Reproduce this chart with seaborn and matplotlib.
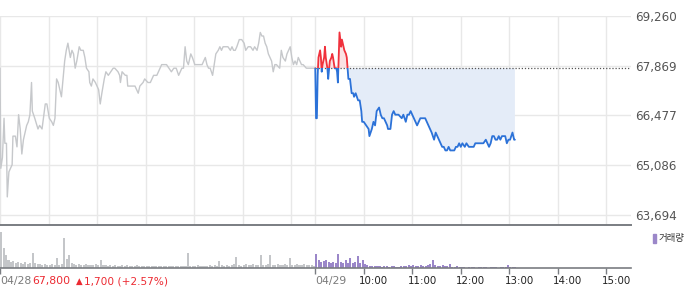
import numpy as np
import pandas as pd
import matplotlib
matplotlib.use("Agg")
import matplotlib.pyplot as plt
import matplotlib.transforms as mtransforms
from matplotlib.patches import Rectangle
import seaborn as sns

# ---------------- data ----------------
base_price = 67800
y_ticks = [63694, 65086, 66477, 67869, 69260]

prev_minutes = [0, 1, 3, 5, 6, 8, 9, 11, 13, 15, 16, 19, 21, 23, 25, 27, 29, 31, 33, 35, 37, 39, 40, 43, 47, 49, 52,
                56, 58, 61, 64, 66, 68, 70, 72, 76, 78, 80, 82, 84, 87, 89, 91, 93, 95, 98, 100, 103, 105, 107, 110,
                111, 113, 115, 118, 120, 122, 124, 126, 129, 131, 134, 137, 140, 142, 146, 148, 149, 151, 155, 157,
                158, 161, 165, 167, 169, 171, 173, 177, 179, 183, 186, 190, 194, 198, 200, 204, 206, 209, 212, 215,
                218, 221, 223, 225, 227, 229, 231, 233, 236, 238, 241, 245, 250, 252, 254, 256, 258, 260, 263, 265,
                267, 270, 272, 274, 276, 280, 282, 285, 287, 289, 291, 293, 296, 299, 302, 304, 307, 310, 313, 315,
                318, 320, 322, 324, 326, 328, 330, 332, 334, 336, 338, 340, 342, 346, 348, 350, 353, 355, 357, 359,
                361, 363, 365, 367, 369, 371, 373, 375, 379, 386, 390]
prev_prices = [67800, 65000, 65300, 66400, 65700, 65700, 64200, 64900, 65000, 65100, 65900, 65900, 65600, 66500,
               66100, 65400, 65800, 66000, 66200, 66300, 66500, 67400, 66600, 66400, 66100, 66200, 66100, 66800,
               66800, 66400, 66300, 66200, 66400, 67500, 67400, 67000, 67500, 68000, 68300, 68500, 68100, 68300,
               68200, 67800, 68000, 68400, 68300, 68300, 68100, 67800, 67700, 67400, 67300, 67500, 67400, 67300,
               67200, 66800, 67100, 67500, 67700, 67600, 67700, 67800, 67800, 67700, 67600, 67400, 67700, 67600,
               67600, 67300, 67300, 67300, 67300, 67200, 67100, 67300, 67400, 67500, 67400, 67400, 67600, 67600,
               67800, 67900, 67900, 67900, 67800, 67700, 67800, 67800, 67600, 67700, 67800, 67800, 68400, 68000,
               67900, 68200, 68100, 67900, 67900, 67900, 68000, 68100, 67900, 67800, 67800, 67600, 67900, 68200,
               68300, 68400, 68300, 68400, 68400, 68400, 68300, 68400, 68300, 68300, 68400, 68600, 68600, 68500,
               68300, 68400, 68400, 68300, 68400, 68300, 68500, 68800, 68700, 68700, 68500, 68400, 68200, 68100,
               68000, 67700, 67900, 67900, 67800, 68300, 68100, 68000, 68200, 68300, 68400, 68100, 67900, 68000,
               67900, 68100, 68000, 67900, 67900, 67800, 67800, 67800]

today_minutes = [0, 1, 2, 3, 4, 6, 7, 8, 9, 11, 12, 13, 15, 16, 18, 20, 21, 22, 24, 26, 27, 28, 29, 30, 32, 33, 35,
                 36, 38, 39, 40, 41, 43, 45, 47, 48, 50, 53, 55, 57, 58, 60, 63, 66, 67, 70, 72, 74, 76, 79, 81, 83,
                 85, 87, 89, 90, 93, 95, 97, 99, 101, 103, 107, 109, 112, 114, 116, 118, 120, 122, 124, 126, 128,
                 130, 132, 134, 136, 138, 140, 142, 144, 147, 149, 151, 153, 155, 157, 159, 161, 163, 165, 167, 169,
                 172, 174, 176, 178, 180, 182, 185, 187, 190, 193, 196, 198, 200, 202, 204, 206, 208, 211, 213, 215,
                 217, 219, 221, 223, 225, 227, 229, 231, 233, 235, 237, 239, 241, 244, 246, 247]
today_prices = [67800, 66400, 66400, 67600, 68100, 68300, 68100, 67700, 67900, 68100, 68400, 68100, 67800, 67500,
                68000, 68100, 68200, 68100, 67800, 67800, 67700, 67400, 68100, 68800, 68400, 68600, 68400, 68300,
                68200, 68100, 67800, 67500, 67500, 67100, 67100, 67000, 67100, 66900, 66900, 66600, 66300, 66300,
                66200, 66100, 65900, 66100, 66300, 66200, 66600, 66700, 66500, 66400, 66400, 66300, 66200, 66100,
                66100, 66500, 66600, 66500, 66500, 66500, 66400, 66500, 66300, 66500, 66500, 66600, 66500, 66400,
                66300, 66200, 66300, 66400, 66400, 66400, 66400, 66300, 66200, 66100, 66000, 65800, 66000, 65900,
                65800, 65700, 65600, 65600, 65500, 65500, 65600, 65500, 65500, 65500, 65600, 65600, 65700, 65600,
                65700, 65600, 65700, 65600, 65600, 65600, 65700, 65700, 65700, 65700, 65700, 65700, 65800, 65700,
                65600, 65700, 65900, 65900, 65800, 65800, 65900, 65800, 65900, 65900, 65900, 65700, 65800, 65800,
                66000, 65800, 65800]

prev_volume = [36, 20, 13, 8, 6, 7, 5, 6, 5, 4, 6, 4, 5, 15, 5, 4, 4, 3, 4, 3,
               3, 4, 3, 10, 3, 4, 30, 9, 13, 5, 4, 3, 4, 3, 3, 4, 3, 3, 3, 4,
               3, 8, 3, 3, 2, 3, 2, 3, 2, 2, 3, 2, 3, 2, 2, 2, 3, 2, 2, 2,
               2, 2, 2, 2, 2, 2, 2, 2, 2, 2, 2, 2, 2, 2, 2, 2, 2, 15, 2, 2,
               2, 3, 2, 2, 2, 2, 3, 2, 3, 2, 7, 3, 2, 3, 2, 3, 4, 11, 3, 2,
               3, 4, 3, 3, 4, 3, 3, 13, 3, 3, 4, 13, 3, 3, 4, 3, 3, 4, 3, 10,
               3, 3, 4, 3, 3, 4, 3, 3, 3, 2]
today_volume = [14, 8, 6, 7, 8, 6, 5, 6, 5, 14, 6, 5, 8, 5, 10, 5, 6, 12, 5, 8,
                4, 3, 2, 2, 2, 2, 2, 1, 2, 2, 1, 2, 2, 1, 1, 2, 2, 2, 3, 2,
                3, 2, 2, 3, 2, 2, 3, 4, 8, 3, 2, 2, 3, 2, 2, 4, 1, 1, 2, 1,
                1, 1, 0, 1, 1, 1, 0, 1, 1, 1, 1, 0, 1, 1, 1, 0, 1, 1, 1, 3,
                1, 1, 1]

session_minutes = 390
volume_step = 3
x_tick_labels = ["04/28", "04/29", "10:00", "11:00", "12:00", "13:00", "14:00", "15:00"]
close_text = "67,800"
arrow_text = "\u25b2"
change_text = "1,700 (+2.57%)"
legend_label = "거래량"

# ---------------- style ----------------
sns.set_theme(style="white")
plt.rcParams['font.family'] = ['DejaVu Sans']

GRAY_LINE = "#c6c8cb"
RED = "#f0313c"
BLUE = "#2c72d8"
RED_FILL = "#fbe1e3"
BLUE_FILL = "#e4ecf8"
GRID = "#e8e8e8"
VOL_GRAY = "#c4c6c9"
VOL_PURPLE = "#9b87c9"
TXT_RED = "#ec2a32"

W, H = 700, 289
fig = plt.figure(figsize=(W / 100, H / 100), dpi=100)
fig.patch.set_facecolor("white")

def fx(px):
    return px / W

def fy(py):
    return 1 - py / H

plot_right = 630.5
ax = fig.add_axes([0, fy(225), fx(plot_right), fy(16) - fy(225)])
axv = fig.add_axes([0, fy(268), fx(plot_right), fy(226) - fy(268)])

total = 2 * session_minutes
y_low = y_ticks[0] - (y_ticks[1] - y_ticks[0]) * 10 / 49.75

prev_df = pd.DataFrame({"t": prev_minutes, "price": prev_prices})
today_df = pd.DataFrame({"t": np.array(today_minutes) + session_minutes, "price": today_prices})

# grid
for v in y_ticks:
    ax.axhline(v, color=GRID, lw=1, zorder=0)
grid_x = [60 * h for h in range(0, 7)] + [session_minutes + 60 * h for h in range(0, 7)]
for gx in grid_x:
    ax.axvline(gx, color=GRID, lw=1, zorder=0)

# previous-day line
sns.lineplot(data=prev_df, x="t", y="price", ax=ax, color=GRAY_LINE, linewidth=1.0, zorder=3)

# today fills
tx = today_df["t"].to_numpy(dtype=float)
ty = today_df["price"].to_numpy(dtype=float)
ax.fill_between(tx, ty, base_price, where=ty >= base_price, interpolate=True, color=RED_FILL, lw=0, zorder=1)
ax.fill_between(tx, ty, base_price, where=ty <= base_price, interpolate=True, color=BLUE_FILL, lw=0, zorder=1)

# baseline dotted
ax.plot([session_minutes, total], [base_price, base_price], color="#555555", lw=0.9,
        linestyle=(0, (1, 1.5)), zorder=2)

# today line: red above, blue below
sns.lineplot(data=today_df, x="t", y="price", ax=ax, color=RED, linewidth=1.3, zorder=4)
red_line = ax.lines[-1]
sns.lineplot(data=today_df, x="t", y="price", ax=ax, color=BLUE, linewidth=1.3, zorder=4)
blue_line = ax.lines[-1]
clip_up = Rectangle((session_minutes - 5, base_price), session_minutes + 10, 5000, transform=ax.transData)
clip_dn = Rectangle((session_minutes - 5, y_low - 1000), session_minutes + 10, base_price - y_low + 1000,
                    transform=ax.transData)
red_line.set_clip_path(clip_up)
blue_line.set_clip_path(clip_dn)

ax.set_xlim(0, total)
ax.set_ylim(y_low, y_ticks[-1])
ax.set_xlabel("")
ax.set_ylabel("")
ax.set_xticks([])
ax.yaxis.tick_right()
ax.set_yticks(y_ticks)
ax.set_yticklabels([f"{v:,}" for v in y_ticks])
ax.tick_params(axis="y", length=0, pad=3, labelsize=8.6, labelcolor="#555555")
for lbl in ax.get_yticklabels():
    lbl.set_horizontalalignment("left")
for s in ["top", "right", "left"]:
    ax.spines[s].set_visible(False)
ax.spines["bottom"].set_color("#7a7d82")
ax.spines["bottom"].set_linewidth(1.4)

# volume (bars at native minute positions)
prev_vdf = pd.DataFrame({"t": np.arange(len(prev_volume)) * volume_step + 1.5, "v": prev_volume,
                         "day": "prev"})
today_vdf = pd.DataFrame({"t": np.arange(len(today_volume)) * volume_step + 1.5 + session_minutes,
                          "v": today_volume, "day": "today"})
vdf = pd.concat([prev_vdf, today_vdf], ignore_index=True)
sns.barplot(data=vdf, x="t", y="v", hue="day", palette={"prev": VOL_GRAY, "today": VOL_PURPLE},
            native_scale=True, width=0.85, errorbar=None, ax=axv, legend=False, linewidth=0,
            saturation=1, dodge=False)
axv.set_xlim(0, total)
axv.set_ylim(0, 42)
axv.set_xlabel("")
axv.set_ylabel("")
axv.set_yticks([])
for s in ["top", "right", "left"]:
    axv.spines[s].set_visible(False)
axv.spines["bottom"].set_color("#7a7d82")
axv.spines["bottom"].set_linewidth(1.2)
tick_pos = [0, session_minutes] + [session_minutes + 60 * h for h in range(1, 7)]
axv.set_xticks(tick_pos)
axv.set_xticklabels([])
axv.tick_params(axis="x", direction="out", length=4, width=1, color="#7a7d82", bottom=True)

# bottom labels
trans = mtransforms.blended_transform_factory(axv.transData, fig.transFigure)
label_y = fy(281)
for i, (pos, lab) in enumerate(zip(tick_pos, x_tick_labels)):
    if i < 2:
        axv.text(pos, label_y, lab, transform=trans, ha="left", va="center",
                 fontsize=7.8, color="#7b7b7b", clip_on=False)
    else:
        off = mtransforms.offset_copy(trans, fig=fig, x=-4.5, y=0, units="dots")
        axv.text(pos, label_y, lab, transform=off, ha="left", va="center",
                 fontsize=7.4, color="#222222", clip_on=False)
fig.text(fx(32), label_y, close_text, ha="left", va="center", fontsize=7.8, color=TXT_RED)
fig.text(fx(75.5), label_y - 0.002, arrow_text, ha="left", va="center", fontsize=6.2, color=TXT_RED)
fig.text(fx(84), label_y, change_text, ha="left", va="center", fontsize=7.6, color=TXT_RED)

# legend
fig.patches.append(Rectangle((fx(653), fy(243)), fx(2.6), fy(234) - fy(243), transform=fig.transFigure,
                             color=VOL_PURPLE, figure=fig))
fig.text(fx(659), fy(238.5), legend_label, ha="left", va="center", fontsize=6.8, color="#333333",
         family=["Noto Sans CJK KR", "DejaVu Sans"])

fig.savefig("out.png", dpi=100, facecolor="white")
